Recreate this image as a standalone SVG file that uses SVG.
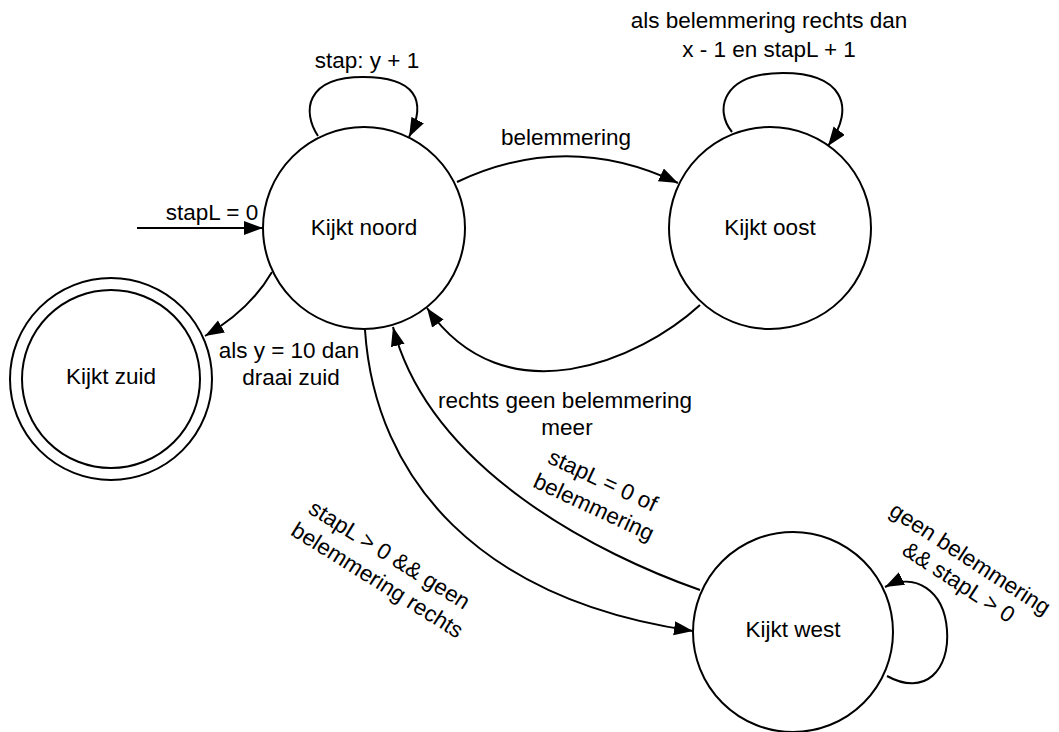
<svg xmlns="http://www.w3.org/2000/svg" width="1059" height="732" viewBox="0 0 1059 732">
  <style>
    .state { fill: #ffffff; stroke: #000000; stroke-width: 2; }
    .edge { fill: none; stroke: #000000; stroke-width: 2; }
    .lbl { font-family: "Liberation Sans", Arial, sans-serif; font-size: 22.5px; fill: #000000; text-anchor: middle; }
  </style>
  <defs>
    <marker id="arrow" markerUnits="userSpaceOnUse" markerWidth="20" markerHeight="15" refX="19" refY="7" orient="auto">
      <path d="M0,0 L19,7 L0,14 z" fill="#000000"/>
    </marker>
  </defs>

  <rect width="1059" height="732" fill="#ffffff"/>

  <!-- transitions -->
  <g id="connectors">
    <!-- initial -->
    <path class="edge" d="M137,228 L263,228" marker-end="url(#arrow)"/>
    <text class="lbl" x="212" y="220">stapL = 0</text>

    <!-- noord self loop -->
    <path class="edge" d="M318,136 C302,112 305,77 363,77 C415,77 428,100 409,137" marker-end="url(#arrow)"/>
    <text class="lbl" x="367" y="68">stap: y + 1</text>

    <!-- noord to oost -->
    <path class="edge" d="M457,182 Q567,130 678,183" marker-end="url(#arrow)"/>
    <text class="lbl" x="566" y="145">belemmering</text>

    <!-- oost self loop -->
    <path class="edge" d="M732,132 C714,110 722,73 783,73 C840,73 858,105 828,146" marker-end="url(#arrow)"/>
    <text class="lbl" x="769" y="28">als belemmering rechts dan</text>
    <text class="lbl" x="769" y="57">x - 1 en stapL + 1</text>

    <!-- oost back to noord -->
    <path class="edge" d="M700,305 C640,360 505,420 427,308" marker-end="url(#arrow)"/>
    <text class="lbl" x="565" y="408">rechts geen belemmering</text>
    <text class="lbl" x="567" y="435">meer</text>

    <!-- noord to zuid -->
    <path class="edge" d="M272,272 Q250,310 205,336" marker-end="url(#arrow)"/>
    <text class="lbl" x="289" y="358">als y = 10 dan</text>
    <text class="lbl" x="291" y="385">draai zuid</text>

    <!-- noord to west -->
    <path class="edge" d="M365,330 C375,480 480,600 693,631" marker-end="url(#arrow)"/>
    <text class="lbl" transform="translate(385,568) rotate(32)">
      <tspan x="0" y="-6">stapL &gt; 0 &amp;&amp; geen</tspan>
      <tspan x="0" y="22">belemmering rechts</tspan>
    </text>

    <!-- west back to noord -->
    <path class="edge" d="M700,590 C600,555 430,470 393,327" marker-end="url(#arrow)"/>
    <text class="lbl" transform="translate(600,494) rotate(25)">
      <tspan x="0" y="-6">stapL = 0 of</tspan>
      <tspan x="0" y="22">belemmering</tspan>
    </text>

    <!-- west self loop -->
    <path class="edge" d="M887,676 C925,697 950,670 947,630 C944,590 915,572 885,587" marker-end="url(#arrow)"/>
    <text class="lbl" transform="translate(966,571) rotate(33)">
      <tspan x="0" y="-5">geen belemmering</tspan>
      <tspan x="0" y="21">&amp;&amp; stapL &gt; 0</tspan>
    </text>
  </g>

  <!-- states -->
  <g id="kijkt-noord">
    <circle class="state" cx="364" cy="228" r="101"/>
    <text class="lbl" x="364" y="235">Kijkt noord</text>
  </g>
  <g id="kijkt-oost">
    <circle class="state" cx="770" cy="228" r="101"/>
    <text class="lbl" x="770" y="235">Kijkt oost</text>
  </g>
  <g id="kijkt-zuid">
    <circle class="state" cx="111" cy="379" r="101"/>
    <circle class="state" cx="111" cy="379" r="89"/>
    <text class="lbl" x="111" y="384">Kijkt zuid</text>
  </g>
  <g id="kijkt-west">
    <circle class="state" cx="793" cy="632" r="100"/>
    <text class="lbl" x="793" y="637">Kijkt west</text>
  </g>
</svg>
